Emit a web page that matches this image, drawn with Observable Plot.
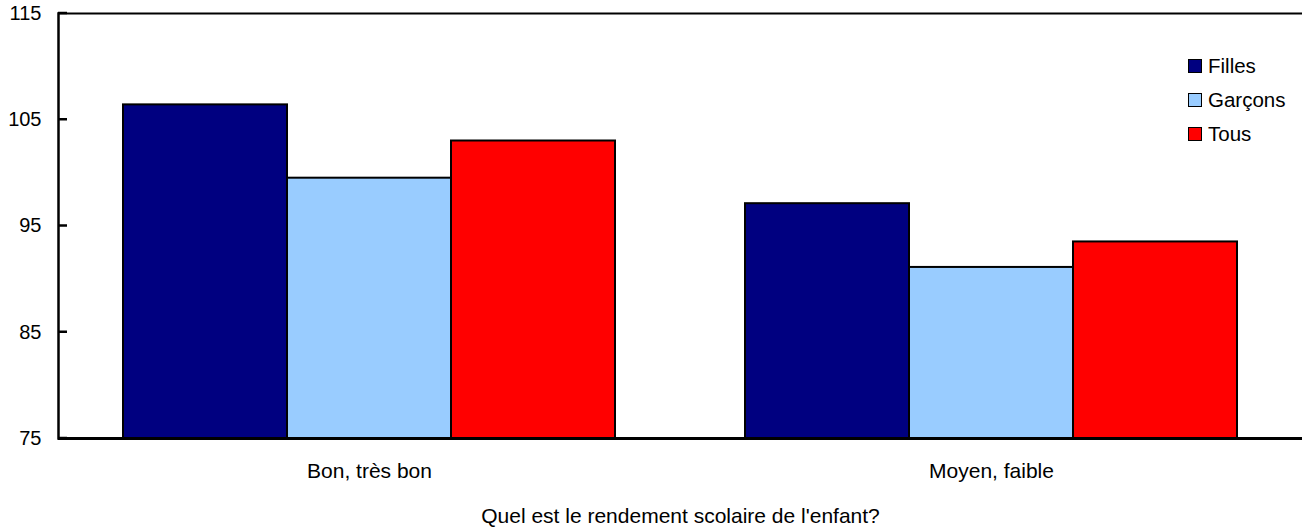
<!DOCTYPE html>
<html>
<head>
<meta charset="utf-8">
<script src="https://cdn.jsdelivr.net/npm/d3@7"></script>
<script src="https://cdn.jsdelivr.net/npm/@observablehq/plot@0.6"></script>
<style>
  html, body { margin: 0; padding: 0; background: #fff; }
  #wrap { position: relative; width: 1302px; height: 527px; font-family: "Liberation Sans", Arial, Helvetica, sans-serif; }
  #legend { position: absolute; left: 1188px; top: 49px; font-size: 20.5px; color: #000; }
  #legend .row { display: flex; align-items: center; height: 34px; }
  #legend .sw { width: 12px; height: 12px; border: 1.5px solid #000; margin-right: 6px; }
</style>
</head>
<body>
<div id="wrap"></div>
<script>
const groups = ["Bon, très bon", "Moyen, faible"];
const series = ["Filles", "Garçons", "Tous"];
const colors = ["#000080", "#99CCFF", "#FF0000"];
const filles = [106.4, 97.1];
const garcons = [99.5, 91.1];
const tous = [103.0, 93.5];
const yTicks = [75, 85, 95, 105, 115];
const axisTitle = "Quel est le rendement scolaire de l'enfant?";

const valuesBySeries = [filles, garcons, tous];
const data = [];
groups.forEach((g, gi) => {
  series.forEach((s, si) => {
    data.push({group: g, series: s, value: valuesBySeries[si][gi]});
  });
});

const ML = 58;
const chart = Plot.plot({
  width: 1302,
  height: 527,
  marginLeft: ML,
  marginRight: 0,
  marginTop: 13,
  marginBottom: 89,
  style: {fontFamily: "'Liberation Sans', Arial, Helvetica, sans-serif", fontSize: "21px", color: "#000", background: "#fff"},
  fx: {domain: groups, padding: 0, label: null},
  x: {domain: series, paddingInner: 0, paddingOuter: 0.396, axis: null},
  y: {domain: [75, 115], label: null},
  color: {domain: series, range: colors},
  marks: [
    Plot.barY(data, {fx: "group", x: "series", y1: 75, y2: "value", fill: "series", stroke: "#000", strokeWidth: 2}),
    Plot.ruleY([115], {stroke: "#000", strokeWidth: 2}),
    Plot.ruleY([75], {stroke: "#000", strokeWidth: 3}),
    Plot.frame({anchor: "left", facetAnchor: "left", stroke: "#000", strokeWidth: 2.5}),
    Plot.axisY({ticks: yTicks, tickSize: 0, tickPadding: 17, tickFormat: d => String(d), label: null, fontSize: "20px"}),
    Plot.axisFx({anchor: "bottom", tickSize: 0, tickPadding: 25, label: axisTitle, labelAnchor: "center", labelOffset: 84, fontSize: "21px"})
  ]
});

// inward y-axis ticks, positioned through the chart's own y scale
const yScale = chart.scale("y");
d3.select(chart).append("g")
  .attr("aria-label", "y-axis inward ticks")
  .selectAll("line")
  .data(yTicks)
  .join("line")
  .attr("x1", ML)
  .attr("x2", ML + 9)
  .attr("y1", d => yScale.apply(d))
  .attr("y2", d => yScale.apply(d))
  .attr("stroke", "#000")
  .attr("stroke-width", 2.5);

const wrap = document.getElementById("wrap");
wrap.appendChild(chart);

const legend = document.createElement("div");
legend.id = "legend";
series.forEach((s, i) => {
  const row = document.createElement("div");
  row.className = "row";
  const sw = document.createElement("div");
  sw.className = "sw";
  sw.style.background = colors[i];
  const t = document.createElement("span");
  t.textContent = s;
  row.appendChild(sw);
  row.appendChild(t);
  legend.appendChild(row);
});
wrap.appendChild(legend);
</script>
</body>
</html>
